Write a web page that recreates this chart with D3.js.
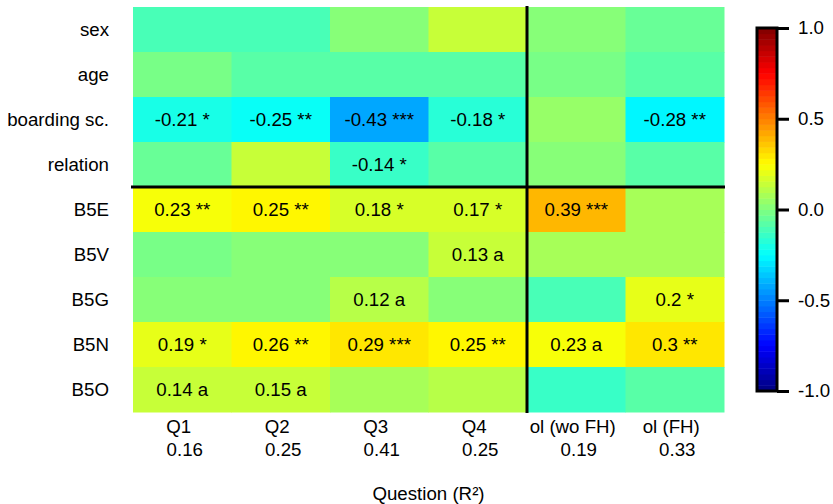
<!DOCTYPE html>
<html>
<head>
<meta charset="utf-8">
<script src="https://cdn.jsdelivr.net/npm/d3@7"></script>
<style>
  html, body { margin: 0; padding: 0; background: #fff; }
  svg { display: block; }
  text { font-family: "Liberation Sans", Arial, Helvetica, sans-serif; fill: #000; }
</style>
</head>
<body>
<svg id="chart" width="833" height="504"></svg>
<script>
// ---- data ----
const rows = ["sex", "age", "boarding sc.", "relation", "B5E", "B5V", "B5G", "B5N", "B5O"];
const columns = ["Q1", "Q2", "Q3", "Q4", "ol (wo FH)", "ol (FH)"];
const r2 = ["0.16", "0.25", "0.41", "0.25", "0.19", "0.33"];
// values per row (columns Q1..ol(FH)); unlabeled cells estimated from colour
const vSex      = [-0.10, -0.10,  0.02,  0.14,  0.02, -0.05];
const vAge      = [-0.02, -0.08, -0.08, -0.08, -0.02, -0.09];
const vBoarding = [-0.21, -0.25, -0.43, -0.18,  0.05, -0.28];
const vRelation = [-0.05,  0.14, -0.14, -0.08,  0.02, -0.09];
const vB5E      = [ 0.23,  0.25,  0.18,  0.17,  0.39,  0.08];
const vB5V      = [-0.02,  0.02,  0.02,  0.13,  0.08,  0.08];
const vB5G      = [ 0.03,  0.03,  0.12,  0.03, -0.12,  0.20];
const vB5N      = [ 0.19,  0.26,  0.29,  0.25,  0.23,  0.30];
const vB5O      = [ 0.14,  0.15,  0.08,  0.11, -0.15, -0.08];
// significance marks ("" = not shown)
const sSex      = ["", "", "", "", "", ""];
const sAge      = ["", "", "", "", "", ""];
const sBoarding = ["*", "**", "***", "*", "", "**"];
const sRelation = ["", "", "*", "", "", ""];
const sB5E      = ["**", "**", "*", "*", "***", ""];
const sB5V      = ["", "", "", "a", "", ""];
const sB5G      = ["", "", "a", "", "", "*"];
const sB5N      = ["*", "**", "***", "**", "a", "**"];
const sB5O      = ["a", "a", "", "", "", ""];
const colorTicks = [1.0, 0.5, 0.0, -0.5, -1.0];

const values = [vSex, vAge, vBoarding, vRelation, vB5E, vB5V, vB5G, vB5N, vB5O];
const sigs = [sSex, sAge, sBoarding, sRelation, sB5E, sB5V, sB5G, sB5N, sB5O];

const cells = [];
rows.forEach((r, i) => columns.forEach((c, j) => {
  cells.push({ row: r, col: c, value: values[i][j], sig: sigs[i][j] });
}));

// ---- jet colour map, 64 steps ----
function jet(x) {
  const cl = v => Math.max(0, Math.min(1, v));
  const r = cl(1.5 - Math.abs(4 * x - 3));
  const g = cl(1.5 - Math.abs(4 * x - 2));
  const b = cl(1.5 - Math.abs(4 * x - 1));
  return d3.rgb(r * 255, g * 255, b * 255).formatHex();
}
const nSteps = 64;
const jetColors = d3.range(nSteps).map(i => jet((i + 0.5) / nSteps));
const color = d3.scaleQuantize().domain([-1, 1]).range(jetColors);

// ---- layout ----
const svg = d3.select("#chart");
const font = 18.7;
const plot = { left: 133, right: 724, top: 7, bottom: 412 };

const x = d3.scaleBand().domain(columns).range([plot.left, plot.right]);
const y = d3.scaleBand().domain(rows).range([plot.top, plot.bottom]);

svg.append("g").selectAll("rect").data(cells).join("rect")
  .attr("x", d => x(d.col))
  .attr("y", d => y(d.row))
  .attr("width", x.bandwidth() + 0.5)
  .attr("height", y.bandwidth() + 0.5)
  .attr("fill", d => color(d.value));

svg.append("g").selectAll("text").data(cells.filter(d => d.sig !== "")).join("text")
  .attr("x", d => x(d.col) + x.bandwidth() / 2)
  .attr("y", d => y(d.row) + y.bandwidth() / 2)
  .attr("dy", "0.36em")
  .attr("text-anchor", "middle")
  .attr("font-size", font)
  .text(d => `${d.value} ${d.sig}`);

// row labels
svg.append("g").selectAll("text").data(rows).join("text")
  .attr("x", 109)
  .attr("y", d => y(d) + y.bandwidth() / 2)
  .attr("dy", "0.36em")
  .attr("text-anchor", "end")
  .attr("font-size", font)
  .text(d => d);

// column labels (two lines)
const colG = svg.append("g");
colG.selectAll("text.l1").data(columns).join("text")
  .attr("class", "l1")
  .attr("x", d => x(d) + x.bandwidth() / 2 - 3.5)
  .attr("y", 433)
  .attr("text-anchor", "middle")
  .attr("font-size", font)
  .text(d => d);
colG.selectAll("text.l2").data(columns).join("text")
  .attr("class", "l2")
  .attr("x", d => x(d) + x.bandwidth() / 2 + 2.5)
  .attr("y", 456)
  .attr("text-anchor", "middle")
  .attr("font-size", font)
  .text((d, i) => r2[i]);

// axis title
const title = svg.append("text")
  .attr("x", (plot.left + plot.right) / 2)
  .attr("y", 500)
  .attr("text-anchor", "middle")
  .attr("font-size", font);
title.append("tspan").text("Question (R");
title.append("tspan").text("²");
title.append("tspan").text(")");

// separator lines
svg.append("line")
  .attr("x1", plot.left - 2).attr("x2", plot.right + 1)
  .attr("y1", y("B5E")).attr("y2", y("B5E"))
  .attr("stroke", "#000").attr("stroke-width", 3);
svg.append("line")
  .attr("x1", x("ol (wo FH)")).attr("x2", x("ol (wo FH)"))
  .attr("y1", plot.top - 1).attr("y2", plot.bottom + 1)
  .attr("stroke", "#000").attr("stroke-width", 3);

// ---- colour bar ----
const cb = { left: 757, width: 20, top: 28, bottom: 391 };
const cy = d3.scaleLinear().domain([-1, 1]).range([cb.bottom, cb.top]);
const cbG = svg.append("g");
cbG.selectAll("rect").data(jetColors).join("rect")
  .attr("x", cb.left)
  .attr("width", cb.width)
  .attr("y", (d, i) => cy(-1 + (i + 1) * 2 / nSteps))
  .attr("height", (cb.bottom - cb.top) / nSteps + 0.5)
  .attr("fill", d => d);
cbG.append("rect")
  .attr("x", cb.left).attr("y", cb.top)
  .attr("width", cb.width).attr("height", cb.bottom - cb.top)
  .attr("fill", "none").attr("stroke", "#000").attr("stroke-width", 3);

const axis = d3.axisRight(cy).tickValues(colorTicks).tickFormat(d3.format(".1f")).tickSize(12).tickPadding(9);
const axG = cbG.append("g")
  .attr("transform", `translate(${cb.left + cb.width},0)`)
  .call(axis);
axG.select(".domain").remove();
axG.selectAll(".tick line").attr("stroke", "#000").attr("stroke-width", 3);
axG.selectAll(".tick text")
  .attr("font-size", font)
  .attr("font-family", "'Liberation Sans', Arial, Helvetica, sans-serif")
  .attr("fill", "#000")
  .text(d => d3.format(".1f")(d).replace("−", "-"));
</script>
</body>
</html>
